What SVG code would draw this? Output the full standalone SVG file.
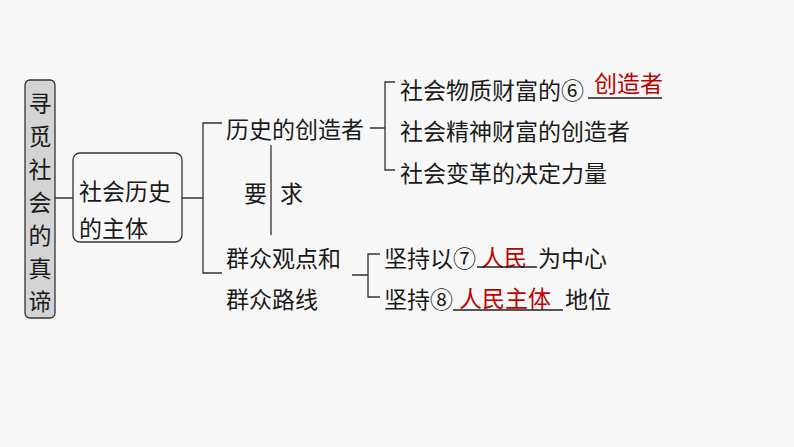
<svg xmlns="http://www.w3.org/2000/svg" width="794" height="447" viewBox="0 0 794 447">
<style>
text{font-family:"Noto Sans CJK SC",sans-serif;font-size:23px;fill:#1a1a1a;dominant-baseline:central}
.r{fill:#c00000}
.l{stroke:#333;stroke-width:1.3;fill:none}
.u{stroke:#222;stroke-width:1.5}
</style>
<rect width="794" height="447" fill="#f7f7f7"/>
<g id="root"><rect x="25" y="80" width="30" height="238" rx="5" fill="#d4d4d4" stroke="#333" stroke-width="1.3"/>
<text x="40" y="102" text-anchor="middle" font-size="26">寻</text>
<text x="40" y="135" text-anchor="middle" font-size="26">觅</text>
<text x="40" y="168" text-anchor="middle" font-size="26">社</text>
<text x="40" y="201" text-anchor="middle" font-size="26">会</text>
<text x="40" y="234" text-anchor="middle" font-size="26">的</text>
<text x="40" y="267" text-anchor="middle" font-size="26">真</text>
<text x="40" y="300" text-anchor="middle" font-size="26">谛</text></g>
<g id="subject"><rect x="73" y="153" width="109" height="89" rx="7" fill="#f7f7f7" stroke="#333" stroke-width="1.3"/>
<text x="79" y="190">社会历史</text><text x="79" y="227">的主体</text></g>
<g id="creator"><text x="226" y="128">历史的创造者</text></g>
<g id="req"><text x="244" y="192">要</text><text x="280" y="192">求</text></g>
<g id="mass"><text x="226" y="257">群众观点和</text><text x="226" y="298">群众路线</text></g>
<g id="c1"><text x="400" y="89">社会物质财富的⑥</text><text x="594" y="82" class="r">创造者</text></g>
<g id="c2"><text x="400" y="130">社会精神财富的创造者</text></g>
<g id="c3"><text x="400" y="172">社会变革的决定力量</text></g>
<g id="m1"><text x="384" y="257">坚持以⑦</text><text x="481" y="256" class="r">人民</text><text x="538" y="257">为中心</text></g>
<g id="m2"><text x="384" y="298">坚持⑧</text><text x="459" y="297" class="r">人民主体</text><text x="565" y="298">地位</text></g>
<g id="connectors">
<path class="l" d="M55 198H73M182 198H203M222 123H203V273H222M271 145V235M370 128H385M395 82H385V170H395M352 275H368M380 254H368V297H380"/>
<path class="u" d="M588 98H662M477 267H537M453 310H563"/>
</g>
</svg>
